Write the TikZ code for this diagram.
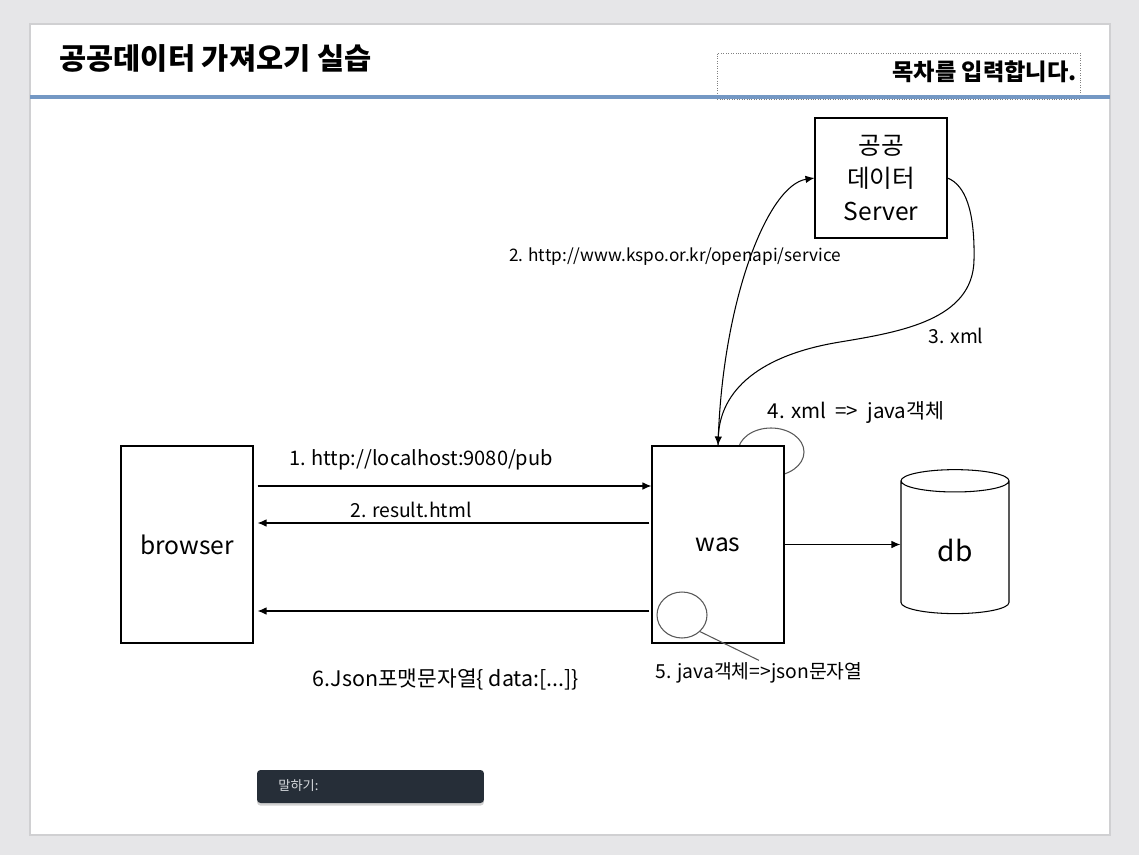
\documentclass[tikz,border=0pt]{standalone}
\usepackage{fontspec}
\setmainfont{Noto Sans CJK KR}
\usetikzlibrary{arrows.meta,positioning,calc,shapes.geometric,shadows}
\definecolor{pagegray}{RGB}{230,230,232}
\definecolor{slideline}{RGB}{208,208,210}
\definecolor{titleblue}{RGB}{116,152,196}
\definecolor{tipdark}{RGB}{38,46,56}
\definecolor{tiptext}{RGB}{215,218,222}

\begin{document}
\begin{tikzpicture}[
    x=0.02cm, y=-0.02cm,
    line width=0.6pt,
    arrow/.style={-{Latex[length=1.8mm,width=1.5mm]}},
    block/.style={draw, fill=white, minimum width=2.64cm, minimum height=3.94cm, font=\fontsize{14}{18}\selectfont},
    loopmark/.style={draw=black!65, ellipse},
    steplabel/.style={font=\fontsize{11}{13}\selectfont, inner sep=1pt}
]

\fill[pagegray] (0,0) rectangle (1139,855);
\path[use as bounding box] (0,0) rectangle (1139,855);
\draw[slideline, fill=white] (30,24) rectangle (1110,835);

% slide header
\node[anchor=west, font=\fontsize{16.8}{20}\selectfont\bfseries] (title) at (53,58) {공공데이터 가져오기 실습};
\node[draw=gray, densely dotted, line width=0.4pt, minimum width=7.26cm, minimum height=0.92cm] (tocbox) at (898.5,76) {};
\node[anchor=east, font=\fontsize{13.2}{15}\selectfont\bfseries] (toctext) at (1083,72) {목차를 입력합니다.};
\draw[titleblue, line width=1.8pt] (30,97) -- (1110,97);

% boxes
\node[loopmark, minimum width=1.32cm, minimum height=0.96cm] (xmlloop) at (771,452) {};
\node[block] (browser) at (187,544.5) {browser};
\node[block] (was) at (718,544.5) {was};
\node[draw, fill=white, minimum width=2.64cm, minimum height=2.4cm, align=center, font=\fontsize{14}{18.7}\selectfont] (server) at (881,178) {공공\\데이터\\Server};
\node[cylinder, draw, shape border rotate=90, aspect=0.48, minimum width=2.16cm, minimum height=2.88cm, font=\fontsize{16}{18}\selectfont] (db) at (955,550) {db};
\node[loopmark, minimum width=1.0cm, minimum height=0.92cm] (jsonloop) at (682,615) {};

% labels
\node[steplabel, font=\fontsize{11.4}{13}\selectfont] (reqlabel) at (421,460) {1. http://localhost:9080/pub};
\node[steplabel] (htmllabel) at (411,510) {2. result.html};
\node[steplabel, font=\fontsize{9.8}{12}\selectfont] (apilabel) at (675,257) {2. http://www.kspo.or.kr/openapi/service};
\node[steplabel] (xmllabel) at (956,336) {3. xml};
\node[steplabel, font=\fontsize{11.7}{13}\selectfont] (convlabel) at (856,412) {4. xml~ =>~ java객체};
\node[steplabel] (jsonlabel) at (759,673) {5. java객체=>json문자열};
\node[steplabel, font=\fontsize{12.2}{14}\selectfont] (resplabel) at (446,679) {6.Json포맷문자열\{ data:[...]\}};

% connectors
\draw[arrow] ($(browser.east)+(4,-58.5)$) -- ($(was.west)+(0,-58.5)$);
\draw[arrow] ($(was.west)+(-2,-21.5)$) -- ($(browser.east)+(4,-21.5)$);
\draw[arrow] ($(was.west)+(-2,66.5)$) -- ($(browser.east)+(4,66.5)$);
\draw[arrow] (was.east) -- (was.east -| db.west);
\draw[arrow] (was.north) .. controls (722,300) and (768,185) .. (server.west);
\draw[arrow] (server.east) .. controls (965,185) and (975,210) .. (974,260)
    .. controls (973,320) and (900,332) .. (840,342)
    .. controls (760,355) and (720,390) .. (was.north);
\draw[black!65] (jsonloop.south east) -- (jsonlabel.north);

% speech bar
\node[fill=tipdark, rounded corners=2pt, drop shadow={opacity=0.35, shadow xshift=0pt, shadow yshift=-1.5pt}, minimum width=4.54cm, minimum height=0.66cm] (speakbox) at (370.5,786.5) {};
\node[anchor=west, text=tiptext, font=\fontsize{7.5}{9}\selectfont] (speaktext) at (272,786) {말하기:};

\end{tikzpicture}
\end{document}
